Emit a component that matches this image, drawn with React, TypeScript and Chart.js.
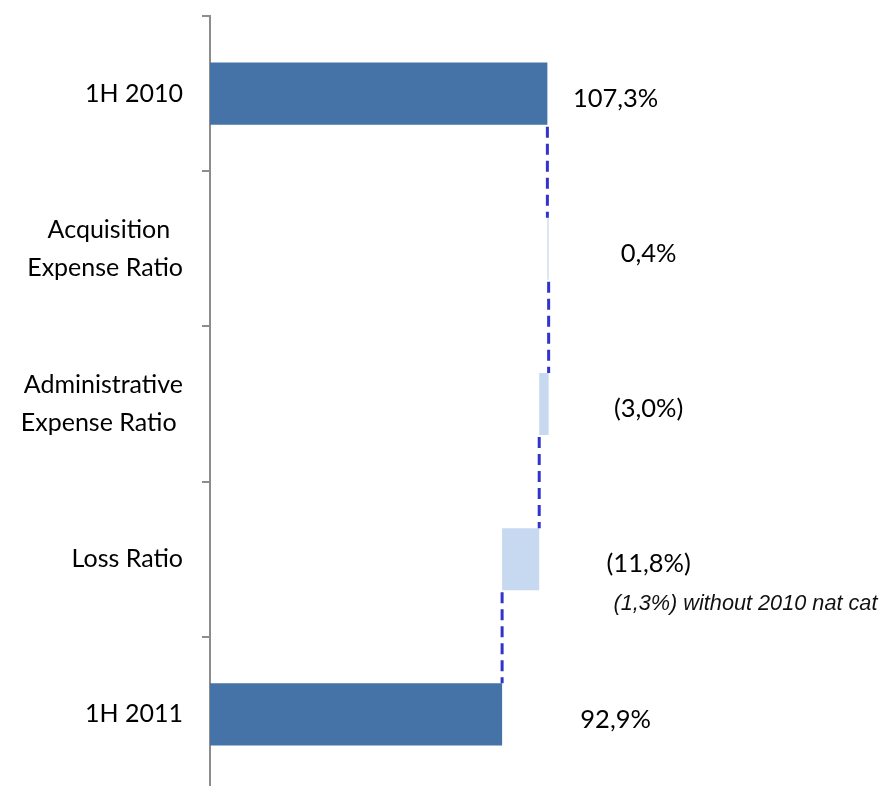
import React, { useEffect, useRef } from "react";
import { Chart, registerables } from "chart.js";

Chart.register(...registerables);

const categories: string[][] = [
  ["1H 2010"],
  ["Acquisition  ", "Expense Ratio"],
  ["Administrative", "Expense Ratio "],
  ["Loss Ratio"],
  ["1H 2011"],
];
const kinds = ["total", "delta", "delta", "delta", "total"];
const values = [107.3, 0.4, -3.0, -11.8, 92.9];
const valueLabels = ["107,3%", "0,4%", "(3,0%)", "(11,8%)", "92,9%"];
const noteIndex = 3;
const noteLabel = "(1,3%) without 2010 nat cat";

const DARK = "#4573A7";
const LIGHT = "#C6D9F0";

function buildRanges(): [number, number][] {
  let cum = 0;
  return values.map((v, i) => {
    if (kinds[i] === "total") {
      cum = v;
      return [0, v];
    }
    const start = cum;
    cum = +(cum + v).toFixed(4);
    return [start, cum];
  });
}

export default function App() {
  const ref = useRef<HTMLCanvasElement | null>(null);

  useEffect(() => {
    if (!ref.current) return;
    const ranges = buildRanges();
    const ends = ranges.map((r) => r[1]);

    const overlay = {
      id: "overlay",
      afterDatasetsDraw(chart: any) {
        const ctx = chart.ctx;
        const meta = chart.getDatasetMeta(0);
        const xs = chart.scales.x;
        ctx.save();
        // connectors
        ctx.strokeStyle = "#3232CC";
        ctx.lineWidth = 3;
        ctx.setLineDash([11, 6]);
        for (let i = 0; i < meta.data.length - 1; i++) {
          const a = meta.data[i];
          const b = meta.data[i + 1];
          const x = xs.getPixelForValue(ends[i]);
          const y1 = a.y + a.height / 2 + 2;
          const y2 = b.y - b.height / 2;
          ctx.beginPath();
          ctx.moveTo(x, y1);
          ctx.lineTo(x, y2);
          ctx.stroke();
        }
        ctx.setLineDash([]);
        // value labels
        ctx.fillStyle = "#000";
        ctx.textAlign = "center";
        ctx.textBaseline = "middle";
        ctx.font = "25.5px Lato";
        meta.data.forEach((el: any, i: number) => {
          const cx = xs.getPixelForValue(kinds[i] === "total" ? 129 : 139.5);
          ctx.fillText(valueLabels[i], cx, el.y + 5);
        });
        // note
        const el = meta.data[noteIndex];
        ctx.font = "italic 21.7px 'Liberation Sans'";
        ctx.textAlign = "left";
        ctx.fillStyle = "#111";
        ctx.fillText(noteLabel, xs.getPixelForValue(128.3), el.y + 45);
        ctx.restore();
      },
    };

    const chart = new Chart(ref.current, {
      type: "bar",
      data: {
        labels: categories,
        datasets: [
          {
            data: ranges as any,
            backgroundColor: kinds.map((k) => (k === "total" ? DARK : LIGHT)),
            borderWidth: 0,
            categoryPercentage: 1,
            barPercentage: 0.4,
          },
        ],
      },
      options: {
        indexAxis: "y",
        animation: false,
        responsive: false,
        maintainAspectRatio: false,
        layout: { padding: { top: 16, right: 0, bottom: 0, left: 0 } },
        plugins: { legend: { display: false }, tooltip: { enabled: false } },
        scales: {
          x: { display: false, min: 0, max: 213.4 },
          y: {
            afterFit(scale: any) {
              scale.width = 210;
              scale.paddingTop = 0;
              scale.paddingBottom = 0;
            },
            border: { display: true, color: "#8C8C8C", width: 2 },
            grid: {
              display: true,
              drawOnChartArea: false,
              drawTicks: true,
              tickLength: 8,
              color: "#8C8C8C",
              lineWidth: 2,
              offset: true,
            },
            ticks: {
              color: "#000",
              padding: 19,
              font: { family: "Lato", size: 25, lineHeight: 1.5 },
            },
          },
        },
      },
      plugins: [overlay],
    });
    return () => chart.destroy();
  }, []);

  return (
    <div
      style={{
        position: "absolute",
        left: 0,
        top: 0,
        width: 881,
        height: 786,
        overflow: "hidden",
        background: "#fff",
      }}
    >
      <canvas ref={ref} width={881} height={792} style={{ display: "block" }} />
    </div>
  );
}
